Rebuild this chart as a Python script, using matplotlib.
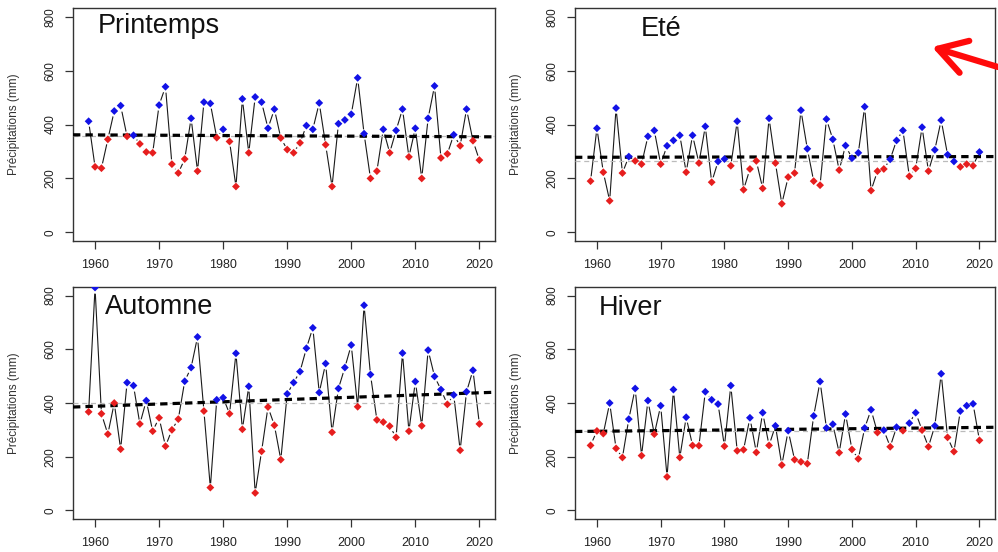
import matplotlib
matplotlib.use('agg')
import matplotlib.pyplot as plt
import numpy as np
from matplotlib.patches import FancyArrowPatch, ArrowStyle

plt.rcParams['font.family'] = ['Liberation Sans', 'DejaVu Sans']

years = np.arange(1959, 2021)

# precipitation per season (mm), 1959 -> 2020
printemps = [412, 243, 238, 345, 450, 470, 356, 360, 328, 298,
             295, 472, 540, 253, 220, 272, 423, 227, 483, 478,
             351, 382, 337, 170, 495, 295, 502, 483, 386, 457,
             350, 307, 295, 332, 396, 382, 480, 325, 170, 403,
             417, 438, 573, 366, 200, 227, 382, 295, 378, 457,
             280, 386, 200, 423, 543, 276, 291, 362, 321, 457,
             340, 268]
ete = [190, 386, 223, 117, 461, 220, 281, 265, 253, 356,
       378, 253, 321, 341, 360, 223, 360, 257, 393, 186,
       263, 272, 247, 412, 158, 235, 265, 163, 423, 257,
       106, 205, 220, 453, 310, 190, 175, 420, 345, 231,
       322, 275, 295, 466, 155, 227, 235, 271, 341, 378,
       208, 237, 390, 227, 306, 416, 288, 263, 243, 253,
       247, 298]
automne = [367, 830, 360, 284, 400, 228, 476, 465, 322, 409,
           295, 345, 239, 300, 340, 481, 532, 646, 370, 85,
           412, 420, 360, 585, 302, 462, 65, 220, 385, 317,
           189, 434, 476, 517, 604, 680, 439, 547, 291, 454,
           532, 616, 386, 764, 506, 337, 329, 314, 272, 586,
           295, 480, 315, 597, 499, 450, 395, 430, 224, 442,
           522, 322]
hiver = [242, 296, 286, 400, 231, 197, 340, 454, 204, 409,
         284, 390, 125, 450, 197, 347, 242, 241, 442, 412,
         396, 239, 465, 222, 226, 345, 216, 364, 242, 315,
         169, 297, 189, 181, 174, 352, 480, 307, 321, 215,
         359, 227, 192, 307, 375, 290, 299, 237, 310, 297,
         325, 364, 299, 237, 315, 509, 272, 219, 370, 390,
         397, 261]

# b = above, r = below
printemps_col = "brrrbbrbrr" "rbbrrrbrbb" "rbrrbrbbbb" "rrrrbbbrrb" "bbbbrrbrbb" "rbrbbrrbrb" "rr"
ete_col = "rbrrbrbrrb" "brbbbrbrbr" "bbrbrrrrbr" "rrrbbrrbbr" "bbbbrrrbbb" "rrbrbbbbrr" "rb"
automne_col = "rbrrrrbbrb" "rrrrrbbbrr" "bbrbrbrrrr" "rbbbbbbbrb" "bbrbbrrrrb" "rbrbbbrbrb" "br"
hiver_col = "rrrbrrbbrb" "rbrbrbrrbb" "brbrrbrbrb" "rbrrrbbbbr" "brrbbrbrbr" "bbrrbbrrbb" "br"

# trend value at 1959 and 2020, and reference level (grey)
printemps_trend = [361.5, 354.5]
ete_trend = [278.5, 281]
automne_trend = [387, 438]
hiver_trend = [294.5, 309]
ref_levels = [357, 263.5, 400, 297]

titles = ['Printemps', 'Eté', 'Automne', 'Hiver']
title_xy = [(1960.4, 739), (1966.9, 727), (1961.5, 731), (1960.3, 729)]

fig = plt.figure(figsize=(9.98, 5.52), dpi=100)
W, H = 998., 552.
boxes = [(73, 8, 495, 241), (575, 8, 995, 241), (73, 287, 495, 519), (575, 287, 995, 519)]

data = [printemps, ete, automne, hiver]
cols = [printemps_col, ete_col, automne_col, hiver_col]
trends = [printemps_trend, ete_trend, automne_trend, hiver_trend]
colmap = {'b': '#1212e6', 'r': '#e61e1e'}

xlo, xhi = 1959 - 0.04 * 61, 2020 + 0.04 * 61
ylo, yhi = -32, 832

for i in range(4):
    l, t, r, b = boxes[i]
    ax = fig.add_axes([l / W, 1 - b / H, (r - l) / W, (b - t) / H])
    v = np.array(data[i], dtype=float)
    ax.plot(years, v, '-', color='#1a1a1a', lw=0.8, zorder=1)
    ax.plot(years, v, 'o', ms=7.5, mfc='white', mec='none', zorder=2)
    ax.axhline(ref_levels[i], color='#bbbbbb', lw=0.9, ls=(0, (4, 3)), zorder=3)
    slope = (trends[i][1] - trends[i][0]) / (2020 - 1959)
    tx = np.array([xlo, xhi])
    ax.plot(tx, trends[i][0] + slope * (tx - 1959), color='black', lw=2.3,
            ls=(0, (2.3, 1.6)), zorder=4)
    c = [colmap[k] for k in cols[i]]
    ax.scatter(years, v, c=c, marker='D', s=16, edgecolors='none', zorder=5)
    ax.text(title_xy[i][0], title_xy[i][1], titles[i], fontsize=19.5,
            ha='left', va='baseline', color='#111111')
    ax.set_xlim(xlo, xhi)
    ax.set_ylim(ylo, yhi)
    ax.set_xticks([1960, 1970, 1980, 1990, 2000, 2010, 2020])
    ax.set_yticks([0, 200, 400, 600, 800])
    ax.tick_params(axis='both', length=6, width=0.9, color='#333333',
                   labelsize=9, labelcolor='#222222', pad=7)
    ax.tick_params(axis='y', labelrotation=90, labelsize=8.5, pad=6)
    for lab in ax.get_yticklabels():
        lab.set_va('center')
    for s in ax.spines.values():
        s.set_color('#333333')
        s.set_linewidth(1.0)
    ax.set_ylabel('Précipitations (mm)', fontsize=8.5, color='#333333')
    ax.yaxis.set_label_coords(-0.125, 0.5)

# red arrow annotation
arrow = FancyArrowPatch((998 / W, 1 - 67 / H), (932 / W, 1 - 47 / H),
                        transform=fig.transFigure,
                        arrowstyle=ArrowStyle('->', head_length=20, head_width=12),
                        mutation_scale=1, lw=4.5, color='#ff0a0a',
                        shrinkA=0, shrinkB=0, capstyle='round', joinstyle='round')
fig.add_artist(arrow)

fig.savefig('out.png', dpi=100)
